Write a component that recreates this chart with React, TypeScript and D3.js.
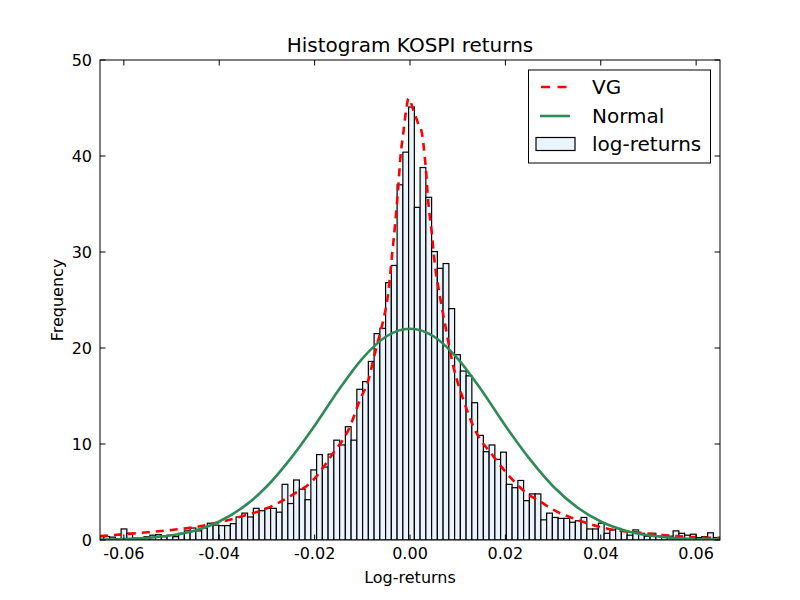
import * as d3 from "d3";
import React from "react";

// histogram of log-returns: density heights per bin
const HIST_RANGE: [number, number] = [-0.0654, 0.06602];
const HIST_HEIGHTS = [
  0.35, 0.35, 0.3, 0.15, 1.15, 0.7, 0.2, 0.1, 0.35, 0.5,
  0.55, 0.35, 0.5, 0.35, 0.7, 0.95, 1.25, 0.95, 1.25, 1.75,
  1.55, 1.5, 1.5, 1.7, 2.4, 2.8, 2.4, 3.3, 3.05, 3.3,
  3.3, 2.9, 5.8, 3.8, 6.25, 5.3, 4.2, 7.3, 8.9, 7.6,
  8.95, 10.4, 9.9, 11.8, 10.4, 15.7, 16.5, 18.6, 21.5, 22.05,
  26.8, 28.6, 37.0, 40.4, 45.1, 34.65, 38.8, 35.7, 30.05, 28.3,
  28.8, 24.1, 19.3, 17.6, 17.1, 14.3, 10.9, 9.2, 9.9, 8.4,
  9.15, 5.8, 5.45, 6.2, 4.1, 4.8, 4.8, 2.1, 2.8, 2.35,
  2.25, 2.25, 1.85, 2.0, 2.35, 1.15, 1.15, 1.75, 0.7, 1.05,
  1.2, 0.9, 0.5, 1.05, 0.7, 0.4, 0.7, 0.4, 0.35, 0.4,
  0.95, 0.7, 0.5, 0.6, 0.25, 0.35, 0.75, 0.25, 0.3,
];

// fitted variance-gamma density (red dashed)
const VG_X = [
  -0.065, -0.06, -0.055, -0.05, -0.045, -0.04, -0.035, -0.03, -0.025, -0.0203,
  -0.0164, -0.0126, -0.0105, -0.0087, -0.0077, -0.0063, -0.0056, -0.0045, -0.0038, -0.0031,
  -0.0025, -0.002, -0.0014, -0.0008, -0.0003, 0.0007, 0.0017, 0.0025, 0.0028, 0.0034,
  0.0038, 0.0045, 0.0052, 0.0063, 0.0073, 0.0091, 0.0112, 0.0133, 0.0175, 0.0203,
  0.0245, 0.0273, 0.0308, 0.0342, 0.0412, 0.0482, 0.0552, 0.0622, 0.065,
];
const VG_Y = [
  0.4, 0.6, 0.8, 1.05, 1.35, 1.85, 2.5, 3.3, 4.6, 6.25,
  8.85, 11.8, 14.6, 16.7, 18.75, 21.5, 22.9, 26.0, 29.5, 33.0,
  36.5, 39.9, 42.4, 44.8, 46.0, 44.8, 43.4, 42.4, 41.3, 38.2,
  35.4, 32.3, 28.8, 25.3, 22.6, 18.05, 14.6, 11.8, 8.7, 6.95,
  4.86, 4.0, 2.95, 2.26, 1.2, 0.76, 0.42, 0.24, 0.2,
];

// fitted normal density (green)
const NORMAL_X = [
  -0.065, -0.06, -0.055, -0.05, -0.045, -0.04, -0.035, -0.03, -0.025, -0.02,
  -0.015, -0.01, -0.005, 0, 0.005, 0.01, 0.015, 0.02, 0.025, 0.03,
  0.035, 0.04, 0.045, 0.05, 0.055, 0.06, 0.065,
];
const NORMAL_Y = [
  0.04, 0.09, 0.22, 0.49, 1.0, 1.93, 3.42, 5.6, 8.5, 11.9,
  15.6, 18.9, 21.2, 22.0, 21.2, 18.9, 15.6, 11.9, 8.5, 5.6,
  3.42, 1.93, 1.0, 0.49, 0.22, 0.09, 0.04,
];

const X_TICKS = [-0.06, -0.04, -0.02, 0, 0.02, 0.04, 0.06];
const Y_TICKS = [0, 10, 20, 30, 40, 50];
const LEGEND_LABELS = ["VG", "Normal", "log-returns"];

const W = 800;
const H = 600;
const margin = { top: 60, right: 80, bottom: 60, left: 100 };
const FONT = "DejaVu Sans, sans-serif";
const BAR_FILL = "#eaf4fc";
const RED = "#ff0000";
const GREEN = "#2e8b57";

export default function App() {
  const x = d3.scaleLinear().domain([-0.065, 0.065]).range([margin.left, W - margin.right]);
  const y = d3.scaleLinear().domain([0, 50]).range([H - margin.bottom, margin.top]);
  const [x0, x1] = x.range();
  const [yb, yt] = y.range();

  const binW = (HIST_RANGE[1] - HIST_RANGE[0]) / HIST_HEIGHTS.length;
  const bars = HIST_HEIGHTS.map((h, i) => ({
    lo: HIST_RANGE[0] + i * binW,
    hi: HIST_RANGE[0] + (i + 1) * binW,
    h,
  }));

  const line = d3
    .line<[number, number]>()
    .x((d) => x(d[0]))
    .y((d) => y(d[1]))
    .curve(d3.curveMonotoneX);

  const vgPath = line(VG_X.map((v, i) => [v, VG_Y[i]]))!;
  const normalPath = line(NORMAL_X.map((v, i) => [v, NORMAL_Y[i]]))!;

  const fmtX = (d: number) => (d === 0 ? "0.00" : d.toFixed(2));
  const tickLen = 5.5;

  // legend box
  const lg = { x: 528.5, y: 70, w: 182, h: 93 };
  const rowY = [lg.y + 17, lg.y + 46, lg.y + 74];

  return (
    <svg
      width={W}
      height={H}
      style={{ position: "absolute", left: 0, top: 0, background: "#fff" }}
      fontFamily={FONT}
    >
      <rect x={0} y={0} width={W} height={H} fill="#fff" />
      <defs>
        <clipPath id="plot-clip">
          <rect x={x0} y={yt} width={x1 - x0} height={yb - yt} />
        </clipPath>
      </defs>

      <g clipPath="url(#plot-clip)">
        {bars.map((b, i) => (
          <rect
            key={i}
            x={x(b.lo)}
            y={y(b.h)}
            width={x(b.hi) - x(b.lo)}
            height={y(0) - y(b.h)}
            fill={BAR_FILL}
            stroke="#000"
            strokeWidth={1.2}
          />
        ))}
        <path d={vgPath} fill="none" stroke={RED} strokeWidth={2.6} strokeDasharray="8,6" />
        <path d={normalPath} fill="none" stroke={GREEN} strokeWidth={2.6} />
      </g>

      {/* ticks on all four sides, pointing inwards */}
      {X_TICKS.map((t) => (
        <g key={"xt" + t}>
          <line x1={x(t)} x2={x(t)} y1={yb} y2={yb - tickLen} stroke="#000" />
          <line x1={x(t)} x2={x(t)} y1={yt} y2={yt + tickLen} stroke="#000" />
          <text x={x(t)} y={yb + 19} textAnchor="middle" fontSize={16}>
            {fmtX(t)}
          </text>
        </g>
      ))}
      {Y_TICKS.map((t) => (
        <g key={"yt" + t}>
          <line x1={x0} x2={x0 + tickLen} y1={y(t)} y2={y(t)} stroke="#000" />
          <line x1={x1} x2={x1 - tickLen} y1={y(t)} y2={y(t)} stroke="#000" />
          <text x={x0 - 8} y={y(t)} dy="0.36em" textAnchor="end" fontSize={16}>
            {t}
          </text>
        </g>
      ))}

      <rect x={x0} y={yt} width={x1 - x0} height={yb - yt} fill="none" stroke="#000" strokeWidth={1} />

      <text x={(x0 + x1) / 2} y={52} textAnchor="middle" fontSize={20}>
        Histogram KOSPI returns
      </text>
      <text x={(x0 + x1) / 2} y={583} textAnchor="middle" fontSize={16}>
        Log-returns
      </text>
      <text transform={`translate(63, ${(yt + yb) / 2}) rotate(-90)`} textAnchor="middle" fontSize={16}>
        Frequency
      </text>

      {/* legend */}
      <g>
        <rect x={lg.x} y={lg.y} width={lg.w} height={lg.h} fill="#fff" stroke="#000" strokeWidth={1} />
        <line x1={541} x2={570} y1={rowY[0]} y2={rowY[0]} stroke={RED} strokeWidth={2.6} strokeDasharray="9,7.5" />
        <line x1={540} x2={570} y1={rowY[1]} y2={rowY[1]} stroke={GREEN} strokeWidth={2.6} />
        <rect x={536} y={rowY[2] - 6.5} width={39} height={13} fill={BAR_FILL} stroke="#000" strokeWidth={1.2} />
        {LEGEND_LABELS.map((l, i) => (
          <text key={l} x={592} y={rowY[i]} dy="0.36em" fontSize={20}>
            {l}
          </text>
        ))}
      </g>
    </svg>
  );
}
